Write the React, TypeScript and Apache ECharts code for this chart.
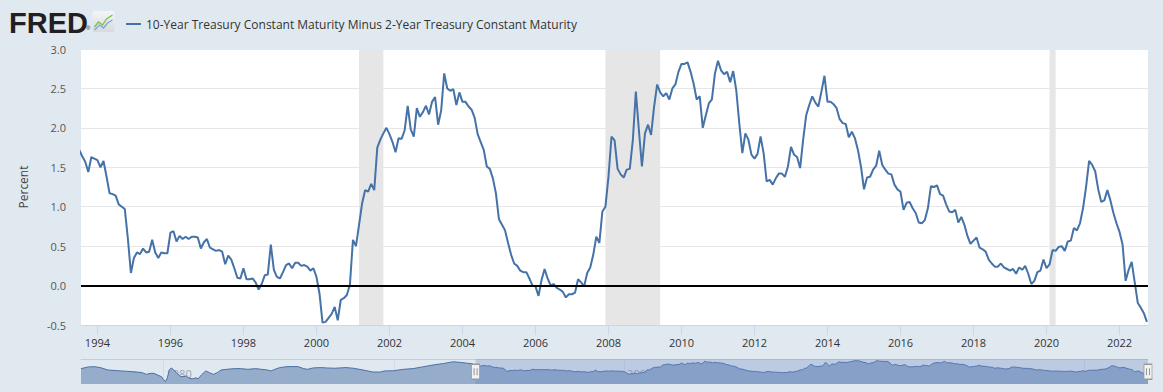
import React, { useEffect, useRef } from 'react';
import * as echarts from 'echarts';

const SERIES_NAME = '10-Year Treasury Constant Maturity Minus 2-Year Treasury Constant Maturity';
const FONT = '"Open Sans", "Noto Sans", sans-serif';

// Monthly values, first month below
const firstMonth = '1993-07';
const spreadValues = [
  1.72, 1.64, 1.57, 1.44, 1.63, 1.61,
  1.59, 1.50, 1.58, 1.38, 1.17, 1.16, 1.14, 1.03, 1.00, 0.97, 0.60, 0.16,
  0.35, 0.42, 0.40, 0.47, 0.42, 0.43, 0.58, 0.42, 0.35, 0.42, 0.41, 0.41,
  0.67, 0.69, 0.56, 0.63, 0.59, 0.62, 0.59, 0.62, 0.62, 0.61, 0.47, 0.55,
  0.59, 0.48, 0.46, 0.44, 0.45, 0.43, 0.27, 0.38, 0.33, 0.22, 0.10, 0.09,
  0.22, 0.08, 0.08, 0.09, 0.04, -0.05, 0.02, 0.13, 0.14, 0.52, 0.20, 0.11,
  0.09, 0.17, 0.26, 0.28, 0.22, 0.29, 0.29, 0.25, 0.26, 0.24, 0.19, 0.22,
  0.11, -0.10, -0.47, -0.46, -0.41, -0.36, -0.27, -0.44, -0.18, -0.16, -0.12, 0.01,
  0.58, 0.50, 0.77, 1.04, 1.21, 1.19, 1.29, 1.21, 1.75, 1.85, 1.93, 2.00,
  1.92, 1.82, 1.69, 1.87, 1.86, 1.97, 2.28, 1.98, 1.89, 2.25, 2.14, 2.20,
  2.28, 2.17, 2.33, 2.39, 2.04, 2.22, 2.69, 2.50, 2.47, 2.49, 2.29, 2.45,
  2.33, 2.33, 2.27, 2.23, 2.13, 1.92, 1.82, 1.72, 1.51, 1.48, 1.36, 1.17,
  0.84, 0.77, 0.70, 0.54, 0.39, 0.28, 0.25, 0.19, 0.17, 0.17, 0.09, 0.00,
  -0.01, -0.13, 0.07, 0.21, 0.09, 0.00, 0.02, -0.03, -0.05, -0.08, -0.15, -0.11,
  -0.11, -0.09, 0.08, 0.04, -0.01, 0.16, 0.23, 0.39, 0.62, 0.54, 0.94, 1.00,
  1.38, 1.89, 1.84, 1.48, 1.41, 1.37, 1.47, 1.48, 1.84, 2.46, 1.97, 1.51,
  1.93, 2.04, 1.91, 2.27, 2.55, 2.45, 2.40, 2.44, 2.36, 2.50, 2.55, 2.71,
  2.81, 2.81, 2.83, 2.71, 2.56, 2.36, 2.40, 2.00, 2.16, 2.31, 2.36, 2.69,
  2.85, 2.73, 2.68, 2.71, 2.58, 2.72, 2.48, 2.06, 1.68, 1.93, 1.85, 1.66,
  1.61, 1.67, 1.89, 1.68, 1.32, 1.34, 1.28, 1.36, 1.42, 1.42, 1.38, 1.51,
  1.76, 1.66, 1.63, 1.49, 1.85, 2.16, 2.29, 2.40, 2.32, 2.27, 2.46, 2.66,
  2.33, 2.33, 2.30, 2.25, 2.11, 2.06, 2.05, 1.88, 1.95, 1.87, 1.72, 1.51,
  1.22, 1.37, 1.38, 1.47, 1.52, 1.71, 1.53, 1.47, 1.42, 1.41, 1.28, 1.22,
  1.19, 0.96, 1.05, 1.06, 0.98, 0.92, 0.80, 0.79, 0.83, 0.98, 1.26, 1.25,
  1.27, 1.16, 1.14, 1.03, 0.94, 0.93, 0.96, 0.80, 0.87, 0.77, 0.63, 0.53,
  0.57, 0.61, 0.48, 0.46, 0.43, 0.33, 0.28, 0.24, 0.24, 0.28, 0.23, 0.21,
  0.19, 0.21, 0.15, 0.23, 0.20, 0.25, 0.15, 0.02, 0.06, 0.17, 0.19, 0.33,
  0.22, 0.27, 0.45, 0.44, 0.49, 0.50, 0.44, 0.56, 0.57, 0.73, 0.70, 0.79,
  0.98, 1.25, 1.58, 1.53, 1.45, 1.22, 1.06, 1.08, 1.21, 1.08, 0.92, 0.79,
  0.68, 0.52, 0.06, 0.20, 0.30, 0.04, -0.22, -0.28, -0.35, -0.46,
];

// Earlier history shown only in the navigator
const navEarlyMonths = [
  '1976-06', '1976-10', '1977-01', '1977-04', '1977-08', '1978-01', '1978-06', '1978-11',
  '1979-02', '1979-04', '1979-06', '1979-08', '1979-10', '1979-12', '1980-01', '1980-02',
  '1980-03', '1980-04', '1980-05', '1980-06', '1980-08', '1980-10', '1981-01', '1981-02',
  '1981-04', '1981-06', '1981-07', '1981-09', '1981-11', '1982-01', '1982-03', '1982-05',
  '1982-07', '1982-10', '1983-02', '1983-05', '1983-09', '1984-01', '1984-04', '1984-07',
  '1984-09', '1984-11', '1985-01', '1985-04', '1985-07', '1985-11', '1986-02', '1986-04',
  '1986-07', '1986-11', '1987-02', '1987-06', '1987-09', '1987-12', '1988-04', '1988-09',
  '1989-02', '1989-06', '1989-08', '1990-01', '1990-06', '1990-11', '1991-04', '1991-10',
  '1992-03', '1992-08', '1992-12', '1993-03', '1993-06',
];
const navEarlyValues = [
  0.87, 1.30, 1.35, 1.13, 0.53, 0.36, 0.20, 0.03,
  -0.14, -0.57, -0.31, -0.31, -0.74, -1.16, -1.84, -2.35,
  -1.42, 0.53, 1.04, 0.70, -0.31, -1.16, -0.99, -1.42,
  -1.67, -1.42, -1.67, -0.57, 0.28, -0.14, -0.57, -0.14,
  0.53, 0.70, 0.87, 0.87, 0.70, 0.87, 0.70, 0.53,
  0.28, 0.70, 1.04, 1.30, 1.38, 1.38, 0.87, 0.70,
  1.04, 1.13, 1.04, 0.96, 1.04, 1.13, 0.96, 0.53,
  0.03, 0.03, 0.28, 0.36, 0.70, 0.87, 1.30, 1.81,
  2.15, 2.57, 2.40, 2.23, 2.06,
];

const recessionStarts = ['2001-03', '2007-12', '2020-02'];
const recessionEnds = ['2001-11', '2009-06', '2020-04'];

const xTickYears = [1994, 1996, 1998, 2000, 2002, 2004, 2006, 2008, 2010, 2012, 2014, 2016, 2018, 2020, 2022];
const navLabelYears = [1980, 1990, 2000, 2010, 2020];

const yMin = -0.5;
const yMax = 3.0;
const yStep = 0.5;

const viewStart = 1993.55;
const viewEnd = 2022.78;

function toYear(ym: string): number {
  const [y, m] = ym.split('-').map(Number);
  return y + (m - 1) / 12;
}

export default function App() {
  const ref = useRef<HTMLDivElement>(null);

  useEffect(() => {
    if (!ref.current) return;
    const chart = echarts.init(ref.current, undefined, { renderer: 'svg' });

    const t0 = toYear(firstMonth);
    const mainData = spreadValues.map((v, i) => [t0 + i / 12, v]);
    const navData = navEarlyMonths.map((m, i) => [toYear(m), navEarlyValues[i]]).concat(mainData);
    const navMin = toYear(navEarlyMonths[0]);
    const navMax = mainData[mainData.length - 1][0];

    const recessionAreas = recessionStarts.map((s, i) => [
      { xAxis: toYear(s) },
      { xAxis: toYear(recessionEnds[i]) },
    ]);

    const option: any = {
      animation: false,
      backgroundColor: '#e1e9f0',
      textStyle: { fontFamily: FONT },
      legend: {
        data: [{ name: SERIES_NAME }],
        left: 121,
        top: 13,
        icon: 'rect',
        itemWidth: 15,
        itemHeight: 2,
        selectedMode: false,
        textStyle: { fontFamily: FONT, fontSize: 12, color: '#333333' },
      },
      graphic: [
        {
          type: 'text',
          left: 9,
          top: 8,
          style: { text: 'FRED', fill: '#231f20', font: 'bold 29px "Liberation Sans", Arial, sans-serif' },
        },
        {
          type: 'text',
          left: 86,
          top: 25,
          style: { text: '®', fill: '#231f20', font: '6px "Liberation Sans", sans-serif' },
        },
        {
          type: 'group',
          left: 92,
          top: 11,
          children: [
            {
              type: 'rect',
              shape: { x: 0, y: 0, width: 22, height: 21, r: 2 },
              style: {
                fill: new echarts.graphic.LinearGradient(0, 0, 0, 1, [
                  { offset: 0, color: '#f4f5f6' },
                  { offset: 1, color: '#d6dade' },
                ]),
              },
            },
            {
              type: 'polyline',
              shape: { points: [[2, 16], [6, 11], [10, 14], [14, 8], [20, 4]] },
              style: { stroke: '#7dbf4a', lineWidth: 1.3, fill: 'none' },
            },
            {
              type: 'polyline',
              shape: { points: [[2, 19], [7, 14], [11, 17], [15, 12], [20, 9]] },
              style: { stroke: '#79a7d6', lineWidth: 1.3, fill: 'none' },
            },
          ],
        },
      ],
      grid: [
        { left: 81, top: 49, width: 1067, height: 276, show: true, backgroundColor: '#ffffff', borderWidth: 0 },
        { left: 81, top: 359, width: 1067, height: 25, show: false },
      ],
      xAxis: [
        {
          type: 'value',
          gridIndex: 0,
          min: viewStart,
          max: viewEnd,
          axisLine: { show: true, onZero: false, lineStyle: { color: '#ccd6eb', width: 1 } },
          axisTick: { show: true, customValues: xTickYears, length: 10, lineStyle: { color: '#ccd6eb' } },
          axisLabel: {
            customValues: xTickYears,
            formatter: (v: number) => String(Math.round(v)),
            color: '#333333',
            fontSize: 11,
            margin: 12,
          },
          splitLine: { show: false },
        },
        {
          type: 'value',
          gridIndex: 1,
          min: navMin,
          max: navMax,
          position: 'top',
          axisLine: { show: true, onZero: false, lineStyle: { color: '#c6cdd6', width: 1 } },
          axisTick: { show: false, customValues: navLabelYears },
          axisLabel: {
            customValues: navLabelYears,
            inside: true,
            margin: 9,
            align: 'left',
            padding: [0, 0, 0, 3],
            formatter: (v: number) => String(Math.round(v)),
            color: '#9aa2ad',
            fontSize: 11,
          },
          splitLine: { show: true, lineStyle: { color: '#d3dbe5', width: 1 } },
        },
      ],
      yAxis: [
        {
          type: 'value',
          gridIndex: 0,
          min: yMin,
          max: yMax,
          interval: yStep,
          axisLine: { show: false },
          axisTick: { show: false },
          axisLabel: {
            formatter: (v: number) => v.toFixed(1),
            color: '#555555',
            fontSize: 11,
            margin: 15,
          },
          splitLine: { show: true, lineStyle: { color: '#e6e6e6', width: 1 } },
          name: 'Percent',
          nameLocation: 'middle',
          nameRotate: 90,
          nameGap: 52,
          nameTextStyle: { color: '#444444', fontSize: 12, fontFamily: FONT },
        },
        { type: 'value', gridIndex: 1, min: -2.95, max: 3.26, show: false },
      ],
      series: [
        {
          name: SERIES_NAME,
          type: 'line',
          xAxisIndex: 0,
          yAxisIndex: 0,
          data: mainData,
          symbol: 'none',
          showSymbol: false,
          z: 3,
          color: '#4572a7',
          lineStyle: { color: '#4572a7', width: 2 },
          markArea: {
            silent: true,
            z: 1,
            itemStyle: { color: '#e6e6e6' },
            data: recessionAreas,
          },
          markLine: {
            silent: true,
            symbol: ['none', 'none'],
            label: { show: false },
            lineStyle: { color: '#000000', width: 2, type: 'solid' },
            data: [{ yAxis: 0 }],
          },
        },
        {
          name: 'navigator',
          type: 'line',
          xAxisIndex: 1,
          yAxisIndex: 1,
          data: navData,
          symbol: 'none',
          showSymbol: false,
          z: 2,
          lineStyle: { color: '#4b70a6', width: 1 },
          areaStyle: { color: '#95accb', opacity: 1, origin: 'start' },
          markArea: {
            silent: true,
            z: 5,
            itemStyle: { color: 'rgba(102,133,194,0.3)' },
            data: [[{ xAxis: viewStart }, { xAxis: navMax }]],
          },
          markPoint: {
            silent: true,
            z: 6,
            label: { show: false },
            data: [
              { coord: [viewStart, 0.1], symbol: 'rect', symbolSize: [8, 15], itemStyle: { color: '#f2f2f2', borderColor: '#999999', borderWidth: 1 } },
              { coord: [navMax, 0.1], symbol: 'rect', symbolSize: [8, 15], itemStyle: { color: '#f2f2f2', borderColor: '#999999', borderWidth: 1 } },
              { coord: [viewStart, 0.1], symbol: 'path://M0,0L0,10M3,0L3,10', symbolSize: [3, 7], itemStyle: { color: 'none', borderColor: '#666666', borderWidth: 1 } },
              { coord: [navMax, 0.1], symbol: 'path://M0,0L0,10M3,0L3,10', symbolSize: [3, 7], itemStyle: { color: 'none', borderColor: '#666666', borderWidth: 1 } },
            ],
          },
        },
      ],
    };

    chart.setOption(option);
    return () => {
      chart.dispose();
    };
  }, []);

  return (
    <div
      ref={ref}
      style={{ position: 'fixed', left: 0, top: 0, width: 1163, height: 392 }}
    />
  );
}
